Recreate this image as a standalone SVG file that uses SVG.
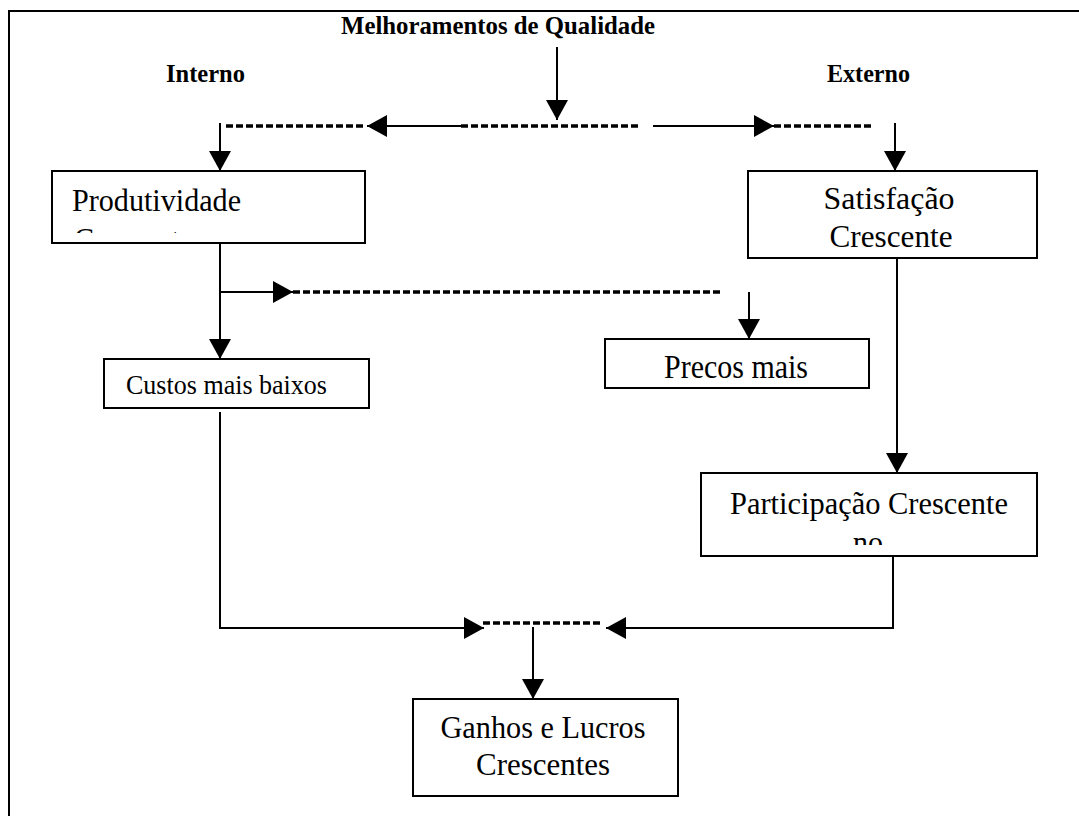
<svg xmlns="http://www.w3.org/2000/svg" width="1079" height="816" viewBox="0 0 1079 816">
<style>
.box{fill:#fff;stroke:#000;stroke-width:2}
.ln{fill:none;stroke:#000;stroke-width:2}
.dash{fill:none;stroke:#000;stroke-width:3.5;stroke-dasharray:7 3}
.t{font-family:"Liberation Serif","Times New Roman",serif;fill:#000}
.b{font-family:"Liberation Serif","Times New Roman",serif;font-weight:bold;font-size:25px;fill:#000}
.big{font-size:32px}
</style>
<defs>
<marker id="ah" markerUnits="userSpaceOnUse" markerWidth="21" markerHeight="22" refX="20" refY="11" orient="auto">
<path d="M0,0 L20,11 L0,22 z" fill="#000"/>
</marker>
<clipPath id="cp1"><rect x="52" y="171" width="313" height="62"/></clipPath>
<clipPath id="cp2"><rect x="701" y="473" width="336" height="72"/></clipPath>
</defs>
<rect x="9" y="11" width="1090" height="830" fill="#fff" stroke="#000" stroke-width="2"/>
<g id="labels">
<text class="b" x="341" y="34" textLength="314" lengthAdjust="spacingAndGlyphs">Melhoramentos de Qualidade</text>
<text class="b" x="166" y="82" textLength="79" lengthAdjust="spacingAndGlyphs">Interno</text>
<text class="b" x="827" y="82" textLength="83" lengthAdjust="spacingAndGlyphs">Externo</text>
</g>
<g id="connectors">
<line class="ln" x1="557" y1="47" x2="557" y2="120" marker-end="url(#ah)"/>
<line class="dash" x1="226" y1="126" x2="366" y2="126"/>
<line class="ln" x1="461" y1="126" x2="367" y2="126" marker-end="url(#ah)"/>
<line class="dash" x1="461" y1="126" x2="640" y2="126"/>
<line class="ln" x1="653" y1="126" x2="774" y2="126" marker-end="url(#ah)"/>
<line class="dash" x1="774" y1="126" x2="873" y2="126"/>
<line class="ln" x1="220" y1="123" x2="220" y2="171" marker-end="url(#ah)"/>
<line class="ln" x1="895" y1="123" x2="895" y2="171" marker-end="url(#ah)"/>
<line class="ln" x1="220" y1="243" x2="220" y2="359" marker-end="url(#ah)"/>
<line class="ln" x1="220" y1="292" x2="293" y2="292" marker-end="url(#ah)"/>
<line class="dash" x1="293" y1="292" x2="722" y2="292"/>
<line class="ln" x1="749" y1="292" x2="749" y2="339" marker-end="url(#ah)"/>
<line class="ln" x1="897" y1="258" x2="897" y2="473" marker-end="url(#ah)"/>
<polyline class="ln" points="220,412 220,628 484,628" marker-end="url(#ah)"/>
<polyline class="ln" points="893,556 893,628 606,628" marker-end="url(#ah)"/>
<line class="dash" x1="483" y1="623" x2="601" y2="623"/>
<line class="ln" x1="533" y1="627" x2="533" y2="699" marker-end="url(#ah)"/>
</g>
<g id="produtividade">
<rect class="box" x="52" y="171" width="313" height="72"/>
<text class="t big" x="72" y="211" textLength="169" lengthAdjust="spacingAndGlyphs">Produtividade</text>
<text class="t big" x="74" y="250" textLength="119" lengthAdjust="spacingAndGlyphs" clip-path="url(#cp1)">Crescente</text>
</g>
<g id="satisfacao">
<rect class="box" x="748" y="171" width="289" height="87"/>
<text class="t big" x="889" y="209" text-anchor="middle" textLength="131" lengthAdjust="spacingAndGlyphs">Satisfação</text>
<text class="t big" x="891" y="247" text-anchor="middle" textLength="123" lengthAdjust="spacingAndGlyphs">Crescente</text>
</g>
<g id="custos">
<rect class="box" x="104" y="359" width="265" height="49"/>
<text class="t" x="126" y="394" font-size="27" textLength="201" lengthAdjust="spacingAndGlyphs">Custos mais baixos</text>
</g>
<g id="precos">
<rect class="box" x="605" y="339" width="264" height="49"/>
<text class="t" x="664" y="378" font-size="33" textLength="144" lengthAdjust="spacingAndGlyphs">Precos mais</text>
</g>
<g id="participacao">
<rect class="box" x="701" y="473" width="336" height="83"/>
<text class="t big" x="730" y="514" textLength="278" lengthAdjust="spacingAndGlyphs">Participação Crescente</text>
<text class="t big" x="868" y="553" text-anchor="middle" textLength="30" lengthAdjust="spacingAndGlyphs" clip-path="url(#cp2)">no</text>
</g>
<g id="ganhos">
<rect class="box" x="413" y="699" width="265" height="97"/>
<text class="t big" x="543" y="738" text-anchor="middle" textLength="205" lengthAdjust="spacingAndGlyphs">Ganhos e Lucros</text>
<text class="t big" x="543" y="775" text-anchor="middle" textLength="134" lengthAdjust="spacingAndGlyphs">Crescentes</text>
</g>
</svg>
